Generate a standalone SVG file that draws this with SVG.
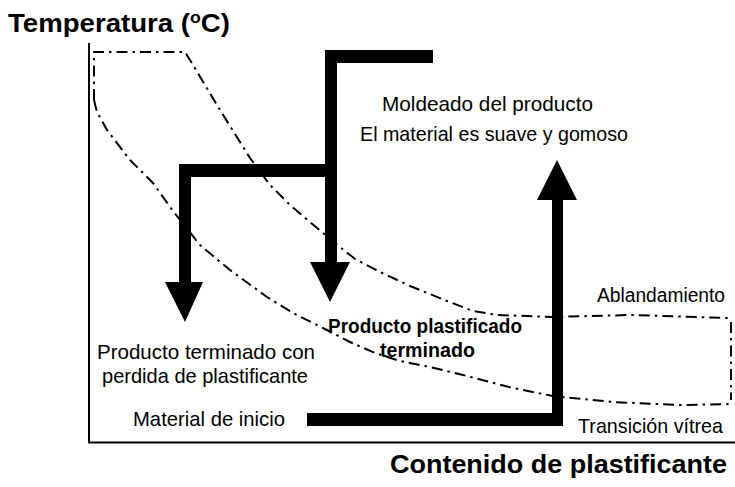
<svg xmlns="http://www.w3.org/2000/svg" width="735" height="487" viewBox="0 0 735 487">
  <style>
    .t { font-family: "Liberation Sans", Arial, sans-serif; font-size: 21px; fill: #000; }
    .b { font-family: "Liberation Sans", Arial, sans-serif; font-weight: bold; fill: #000; }
    .axis { stroke: #000; stroke-width: 2; fill: none; }
    .dd { stroke: #000; stroke-width: 2; fill: none; stroke-dasharray: 11 5 2.5 5; stroke-linejoin: round; }
    .arrow { fill: #000; stroke: none; }
  </style>
  <rect width="735" height="487" fill="#fff"/>

  <g id="axes">
    <line class="axis" x1="89" y1="43" x2="89" y2="443"/>
    <line class="axis" x1="88" y1="442.5" x2="735" y2="442.5"/>
  </g>

  <g id="regions">
    <path id="softening-curve" class="dd" d="M94,100 L94,52 L185,52 L193,65 L220,110 L250,158 L270,185 L290,205 L310,222 L335,243 L355,259 L380,272 L410,286 L447,301 L473,311 L497,315 L553,317 L630,315 L697,317 L727,318 L731,322 L731,400"/>
    <path id="glass-curve" class="dd" d="M94,100 L97,112 L107,130 L130,160 L153,183 L173,211 L200,245 L230,270 L267,297 L293,313 L327,330 L350,342 L375,353 L400,361 L430,367 L463,375 L513,388 L553,396 L613,402 L680,405 L733,404"/>
  </g>

  <g id="connectors">
    <path id="path-molding" class="arrow" d="M325,50 L433,50 L433,63 L337,63 L337,177 L191,177 L191,282 L203,282 L185,322 L165,282 L179,282 L179,164 L325,164 Z"/>
    <path id="arrow-mid" class="arrow" d="M325,164 L337,164 L337,262 L350,262 L330,302 L310,262 L325,262 Z"/>
    <path id="arrow-up" class="arrow" d="M307,413 L552,413 L552,200 L537,200 L557,160 L577,200 L563,200 L563,426 L307,426 Z"/>
  </g>

  <g id="title-y">
    <text class="b" x="8" y="32" font-size="25" textLength="222" lengthAdjust="spacingAndGlyphs">Temperatura (<tspan font-size="16" dy="-9">o</tspan><tspan dy="9">C)</tspan></text>
  </g>
  <g id="title-x">
    <text class="b" x="390" y="473" font-size="26" textLength="337" lengthAdjust="spacingAndGlyphs">Contenido de plastificante</text>
  </g>
  <g id="label-molding">
    <text class="t" x="382" y="111" textLength="211" lengthAdjust="spacingAndGlyphs">Moldeado del producto</text>
    <text class="t" x="360" y="141" textLength="268" lengthAdjust="spacingAndGlyphs">El material es suave y gomoso</text>
  </g>
  <g id="label-loss">
    <text class="t" x="97" y="359" textLength="218" lengthAdjust="spacingAndGlyphs">Producto terminado con</text>
    <text class="t" x="102" y="383" textLength="206" lengthAdjust="spacingAndGlyphs">perdida de plastificante</text>
  </g>
  <g id="label-start">
    <text class="t" x="133" y="426" textLength="152" lengthAdjust="spacingAndGlyphs">Material de inicio</text>
  </g>
  <g id="label-finished">
    <text class="b" x="328" y="333" font-size="20" textLength="194" lengthAdjust="spacingAndGlyphs">Producto plastificado</text>
    <text class="b" x="380" y="357" font-size="20" textLength="95" lengthAdjust="spacingAndGlyphs">terminado</text>
  </g>
  <g id="label-softening">
    <text class="t" x="597" y="302" font-size="19.5" style="font-size:19.5px" textLength="128" lengthAdjust="spacingAndGlyphs">Ablandamiento</text>
  </g>
  <g id="label-glass">
    <text class="t" x="578" y="433" textLength="145" lengthAdjust="spacingAndGlyphs">Transición vítrea</text>
  </g>
</svg>
